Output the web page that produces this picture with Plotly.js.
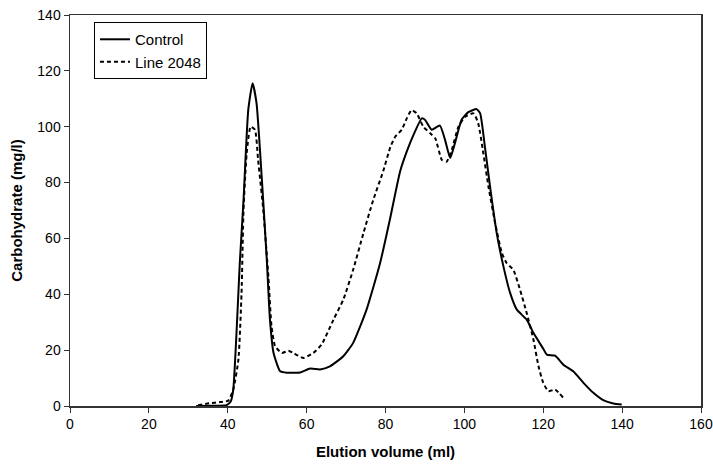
<!DOCTYPE html>
<html>
<head>
<meta charset="utf-8">
<script src="https://cdn.plot.ly/plotly-3.0.1.min.js"></script>
<style>html,body{margin:0;padding:0;background:#fff;}#chart{width:713px;height:466px;}</style>
</head>
<body>
<div id="chart"></div>
<script>
const controlX = [32, 36, 39.7, 40.7, 41.4, 43.1, 44, 45.2, 46.3, 47.3, 48.6, 49.9, 50.7, 51.6, 53.3, 55, 58.3, 60.9, 63.4, 65.9, 69.3, 71.8, 75.2, 78.6, 81.1, 83.7, 85.5, 87.1, 89.2, 90, 91.7, 93.8, 95.1, 96.4, 97.6, 99.3, 101, 103.1, 104, 105.2, 106.5, 108.2, 109.9, 111.6, 113.3, 115.8, 117.5, 120, 120.9, 123, 125.1, 127.6, 130.2, 132.7, 135.2, 137.8, 139.9];
const controlY = [0, 0.1, 0.3, 1.5, 5.9, 52.4, 73.8, 106, 115.6, 108.4, 82.2, 52.4, 30.9, 19.1, 12.4, 11.9, 12, 13.4, 13.1, 14.2, 17.8, 22.6, 34.5, 51, 66.7, 84, 91.5, 97.1, 103, 102.5, 98.9, 100.4, 95.3, 88.8, 94.1, 102.5, 105.2, 106.3, 104.8, 92.9, 78.6, 61.9, 50, 40.5, 34.5, 30.9, 26.2, 20.5, 18.4, 18, 14.8, 12.4, 8.3, 4.7, 2.1, 0.9, 0.5];
const lineX = [32.5, 35.5, 38, 40.1, 41.4, 42.7, 43.5, 44, 44.8, 45.8, 46.9, 47.7, 49, 50.3, 51.1, 52, 53.7, 55.4, 56.6, 59.2, 61.7, 63.8, 66.8, 69.3, 71.8, 74.4, 76.9, 79.4, 81.3, 82.5, 84.1, 85.4, 86.6, 87.9, 89.6, 91.3, 92.6, 94.3, 95.5, 96.8, 98.5, 100.2, 102.3, 103.5, 104.8, 106.1, 107.8, 109.5, 110.7, 112.4, 114.1, 115.8, 117.5, 118.8, 120, 121.3, 123, 125.1];
const lineY = [0.3, 1, 1.4, 1.9, 5.9, 16.6, 40.5, 70.3, 90.5, 100, 98.9, 88.1, 70.3, 46.4, 28.5, 21.4, 19, 19.8, 19, 17.2, 19, 22, 30.9, 38.1, 48.8, 61.9, 73.8, 84, 93, 96.5, 98.9, 103, 106, 104.8, 100, 97.7, 95.9, 88.1, 87.5, 91.7, 100, 103.6, 104.8, 101.3, 90.5, 78.6, 65.5, 54.8, 51.2, 48.8, 41.7, 33.3, 23.8, 14.2, 8.3, 5.3, 5.9, 2.9];
const seriesNames = ["Control", "Line 2048"];
const xTitle = "Elution volume (ml)";
const yTitle = "Carbohydrate (mg/l)";

const FONT = "Liberation Sans, Arial, sans-serif";
const traces = [
  {x: controlX, y: controlY, name: seriesNames[0], mode: "lines",
   line: {color: "#000", width: 2, shape: "spline", smoothing: 0.5}},
  {x: lineX, y: lineY, name: seriesNames[1], mode: "lines",
   line: {color: "#000", width: 2, dash: "4px,3px", shape: "spline", smoothing: 0.5}}
];
const axisCommon = {
  showline: true, mirror: true, linecolor: "#333", linewidth: 1.5,
  ticks: "outside", ticklen: 5, tickcolor: "#333", tickwidth: 1,
  showgrid: false, zeroline: false,
  tickfont: {family: FONT, size: 14, color: "#000"}
};
const layout = {
  width: 713, height: 466,
  margin: {l: 70, r: 12, t: 15, b: 60},
  paper_bgcolor: "#fff", plot_bgcolor: "#fff",
  font: {family: FONT, color: "#000"},
  showlegend: true,
  legend: {x: 0.038, y: 0.982, xanchor: "left", yanchor: "top",
           bordercolor: "#000", borderwidth: 1, bgcolor: "#fff",
           font: {family: FONT, size: 15, color: "#000"}, tracegroupgap: 0},
  xaxis: Object.assign({}, axisCommon, {range: [0, 160], tick0: 0, dtick: 20,
    title: {text: xTitle, font: {family: FONT, size: 15, color: "#000", weight: "bold"}, standoff: 15}}),
  yaxis: Object.assign({}, axisCommon, {range: [0, 140], tick0: 0, dtick: 20,
    title: {text: yTitle, font: {family: FONT, size: 15, color: "#000", weight: "bold"}, standoff: 11}})
};
Plotly.newPlot("chart", traces, layout, {staticPlot: true, displayModeBar: false});
</script>
</body>
</html>
